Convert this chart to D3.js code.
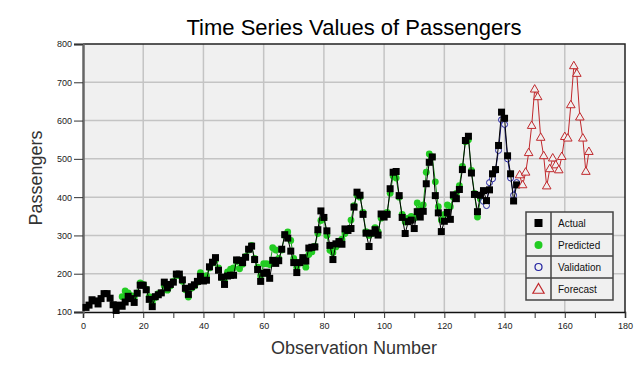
<!DOCTYPE html>
<html>
<head>
<meta charset="utf-8">
<script src="https://cdn.jsdelivr.net/npm/d3@7"></script>
<style>
  body { margin: 0; background: #fff; }
  svg { display: block; font-family: Arial, "Liberation Sans", sans-serif; }
</style>
</head>
<body>
<script>
/* DATA */
// monthly passengers, observation 1..144
var actual = [112,118,132,129,121,135,148,148,136,119,104,118,
  115,126,141,135,125,149,170,170,158,133,114,140,
  145,150,178,163,172,178,199,199,184,162,146,166,
  171,180,193,181,183,218,230,242,209,191,172,194,
  196,196,236,235,229,243,264,272,237,211,180,201,
  204,188,235,227,234,264,302,293,259,229,203,229,
  242,233,267,269,270,315,364,347,312,274,237,278,
  284,277,317,313,318,374,413,405,355,306,271,306,
  315,301,356,348,355,422,465,467,404,347,305,336,
  340,318,362,348,363,435,491,505,404,359,310,337,
  360,342,406,396,420,472,548,559,463,407,362,405,
  417,391,419,461,472,535,622,606,508,461,390,432];

// model output, observation 13..132
var predicted = [140,155,150,143,138,150,176,172,160,140,125,138,
  148,150,168,157,168,180,196,195,180,158,139,162,
  168,178,203,190,195,215,228,236,215,190,180,205,
  212,215,232,213,225,245,262,274,240,217,195,226,
  226,224,268,262,240,262,300,309,287,240,217,228,
  238,217,250,257,272,305,339,345,300,261,255,270,
  285,290,305,315,340,378,405,400,360,310,300,305,
  320,310,345,350,360,410,455,450,400,355,335,345,
  350,345,385,370,380,465,513,505,440,375,340,355,
  380,375,400,410,430,480,545,550,470,410,348,395];

// observation 133..144
var validation = [389,378,438,448,470,522,602,590,500,450,405,438];

// observation 145..168
var forecast = [457,431,464,515,586,681,661,555,507,428,473,501,
  483,470,505,557,553,640,742,722,608,553,466,518];

var predStart = 13, valStart = 133, fcStart = 145;

var xTicks = [0,20,40,60,80,100,120,140,160,180];
var yTicks = [100,200,300,400,500,600,700,800];
var legendItems = ["Actual", "Predicted", "Validation", "Forecast"];

/* LAYOUT */
var W = 638, H = 376;
var pLeft = 83, pRight = 625, pTop = 44, pBottom = 312;

var x = d3.scaleLinear().domain([0, 180]).range([pLeft, pRight]);
var y = d3.scaleLinear().domain([100, 800]).range([pBottom, pTop]);

var svg = d3.select("body").append("svg")
  .attr("width", W).attr("height", H);

// plot background
svg.append("rect")
  .attr("x", pLeft).attr("y", pTop)
  .attr("width", pRight - pLeft).attr("height", pBottom - pTop)
  .attr("fill", "#f0f0f0");

// grid
svg.append("g").selectAll("line")
  .data(xTicks.slice(1, -1))
  .enter().append("line")
  .attr("x1", d => x(d)).attr("x2", d => x(d))
  .attr("y1", pTop).attr("y2", pBottom)
  .attr("stroke", "#c4c4c4").attr("stroke-width", 1.5);

svg.append("g").selectAll("line")
  .data(yTicks.slice(1, -1))
  .enter().append("line")
  .attr("x1", pLeft).attr("x2", pRight)
  .attr("y1", d => y(d)).attr("y2", d => y(d))
  .attr("stroke", "#c4c4c4").attr("stroke-width", 1.5);

// frame: top and right
svg.append("path")
  .attr("d", "M" + pLeft + "," + pTop + "H" + pRight + "V" + pBottom)
  .attr("fill", "none").attr("stroke", "#222").attr("stroke-width", 1.5);

// axes
var xAxis = svg.append("g")
  .attr("transform", "translate(0," + pBottom + ")")
  .call(d3.axisBottom(x).tickValues(d3.range(0, 181, 10)).tickSize(6).tickPadding(5)
    .tickFormat(d => d % 20 === 0 ? d : ""));
xAxis.select(".domain").attr("stroke", "#111").attr("stroke-width", 1.5);

var yAxis = svg.append("g")
  .attr("transform", "translate(" + pLeft + ",0)")
  .call(d3.axisLeft(y).tickValues(yTicks).tickSize(9).tickPadding(2));
yAxis.select(".domain").attr("stroke", "#666").attr("stroke-width", 2.5);

svg.selectAll(".tick line").attr("stroke", "#333");
svg.selectAll(".tick text").attr("font-size", 9).attr("fill", "#222")
  .attr("font-family", "Arial, sans-serif");

/* SERIES */
function pts(arr, start) {
  return arr.map((v, i) => [start + i, v]);
}
var line = d3.line().x(d => x(d[0])).y(d => y(d[1]));

var actPts = pts(actual, 1),
    predPts = pts(predicted, predStart),
    valPts = pts(validation, valStart),
    fcPts = pts(forecast, fcStart);

// predicted
svg.append("path").datum(predPts).attr("d", line)
  .attr("fill", "none").attr("stroke", "#1a9a1a").attr("stroke-width", 1);
svg.append("g").selectAll("circle").data(predPts).enter().append("circle")
  .attr("cx", d => x(d[0])).attr("cy", d => y(d[1])).attr("r", 3.4)
  .attr("fill", "#22cc22");

// validation
svg.append("path").datum(valPts).attr("d", line)
  .attr("fill", "none").attr("stroke", "#1a1a80").attr("stroke-width", 1);
svg.append("g").selectAll("circle").data(valPts).enter().append("circle")
  .attr("cx", d => x(d[0])).attr("cy", d => y(d[1])).attr("r", 3)
  .attr("fill", "#f0f0f0").attr("stroke", "#2222a0").attr("stroke-width", 1);

// actual
svg.append("path").datum(actPts).attr("d", line)
  .attr("fill", "none").attr("stroke", "#000").attr("stroke-width", 1);
svg.append("g").selectAll("rect").data(actPts).enter().append("rect")
  .attr("x", d => x(d[0]) - 3.5).attr("y", d => y(d[1]) - 3.5)
  .attr("width", 7).attr("height", 7).attr("fill", "#000");

// forecast
var tri = d3.symbol().type(d3.symbolTriangle).size(32);
svg.append("path").datum(fcPts).attr("d", line)
  .attr("fill", "none").attr("stroke", "#c0282c").attr("stroke-width", 1);
svg.append("g").selectAll("path").data(fcPts).enter().append("path")
  .attr("d", tri)
  .attr("transform", d => "translate(" + x(d[0]) + "," + y(d[1]) + ")")
  .attr("fill", "#f0f0f0").attr("stroke", "#c0282c").attr("stroke-width", 1);

/* TITLES */
svg.append("text")
  .attr("x", 354).attr("y", 35)
  .attr("text-anchor", "middle")
  .attr("font-size", 22).attr("fill", "#000")
  .text("Time Series Values of Passengers");

svg.append("text")
  .attr("transform", "translate(42," + ((pTop + pBottom) / 2) + ") rotate(-90)")
  .attr("text-anchor", "middle")
  .attr("font-size", 18).attr("fill", "#333")
  .text("Passengers");

svg.append("text")
  .attr("x", (pLeft + pRight) / 2).attr("y", 354)
  .attr("text-anchor", "middle")
  .attr("font-size", 18).attr("fill", "#333")
  .text("Observation Number");

/* LEGEND */
var lgX = 526, lgY = 212, lgW = 87, rowH = 22, symW = 25;
var lg = svg.append("g");
lg.append("rect").attr("x", lgX).attr("y", lgY)
  .attr("width", lgW).attr("height", rowH * legendItems.length)
  .attr("fill", "#f0f0f0").attr("stroke", "#444").attr("stroke-width", 1.5);
lg.append("line").attr("x1", lgX + symW).attr("x2", lgX + symW)
  .attr("y1", lgY).attr("y2", lgY + rowH * legendItems.length)
  .attr("stroke", "#444").attr("stroke-width", 1.5);
legendItems.forEach(function(name, i) {
  var cy = lgY + rowH * i + rowH / 2, cx = lgX + symW / 2;
  if (i > 0) {
    lg.append("line").attr("x1", lgX).attr("x2", lgX + lgW)
      .attr("y1", lgY + rowH * i).attr("y2", lgY + rowH * i)
      .attr("stroke", "#444").attr("stroke-width", 1.5);
  }
  if (i === 0) {
    lg.append("rect").attr("x", cx - 4).attr("y", cy - 4)
      .attr("width", 8).attr("height", 8).attr("fill", "#000");
  } else if (i === 1) {
    lg.append("circle").attr("cx", cx).attr("cy", cy).attr("r", 4).attr("fill", "#22cc22");
  } else if (i === 2) {
    lg.append("circle").attr("cx", cx).attr("cy", cy).attr("r", 3.5)
      .attr("fill", "none").attr("stroke", "#2222a0").attr("stroke-width", 1.2);
  } else {
    lg.append("path").attr("d", d3.symbol().type(d3.symbolTriangle).size(55))
      .attr("transform", "translate(" + cx + "," + (cy + 1) + ")")
      .attr("fill", "none").attr("stroke", "#c0282c").attr("stroke-width", 1.2);
  }
  lg.append("text").attr("x", lgX + symW + 7).attr("y", cy + 3.5)
    .attr("font-size", 10).attr("fill", "#111").text(name);
});
</script>
</body>
</html>
